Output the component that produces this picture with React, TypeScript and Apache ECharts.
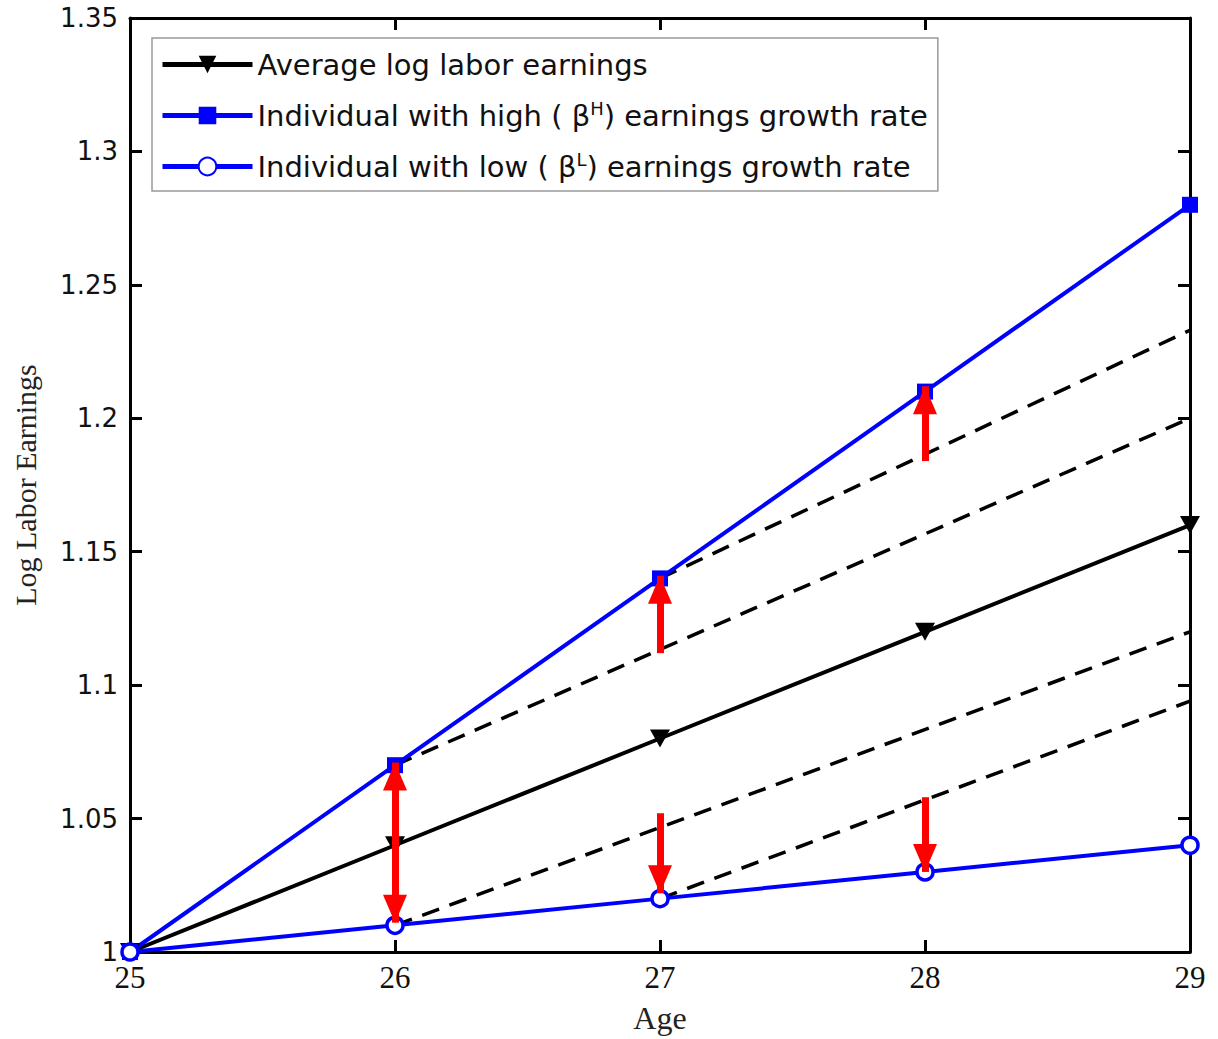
import React, { useEffect, useRef } from "react";
import * as echarts from "echarts";

const ages = [25, 26, 27, 28, 29];
const avgEarnings = [1.0, 1.04, 1.08, 1.12, 1.16];
const highEarnings = [1.0, 1.07, 1.14, 1.21, 1.28];
const lowEarnings = [1.0, 1.01, 1.02, 1.03, 1.04];

// dashed counterfactual paths: [age, value] start and end
const dashHighFrom26 = [[26, 1.07], [29, 1.2]];
const dashHighFrom27 = [[27, 1.14], [29, 1.233]];
const dashLowFrom26 = [[26, 1.01], [29, 1.12]];
const dashLowFrom27 = [[27, 1.02], [29, 1.094]];

// red arrows: [age, fromValue, toValue]
const arrows = [
  [26, 1.04, 1.071],
  [26, 1.04, 1.011],
  [27, 1.112, 1.141],
  [27, 1.052, 1.022],
  [28, 1.184, 1.212],
  [28, 1.058, 1.03],
];

const legendNames = ["avg", "high", "low"];
const legendLabels: Record<string, string> = {
  avg: "Average log labor earnings",
  high: "Individual with high ( β{sup|H}) earnings growth rate",
  low: "Individual with low ( β{sup|L}) earnings growth rate",
};

const yTicks = { min: 1, max: 1.35, interval: 0.05 };
const xTicks = { min: 25, max: 29, interval: 1 };

export default function App() {
  const ref = useRef<HTMLDivElement>(null);
  useEffect(() => {
    if (!ref.current) return;
    const chart = echarts.init(ref.current, undefined, { renderer: "svg" });
    const pair = (ys: number[]) => ages.map((a, i) => [a, ys[i]]);
    const dashSeries = (data: number[][]) => ({
      type: "line",
      data,
      symbol: "none",
      silent: true,
      lineStyle: { color: "#000", width: 3.5, type: [18, 11] },
      z: 1,
    });
    const axisLineStyle = { color: "#000", width: 3 };
    const option: any = {
      animation: false,
      backgroundColor: "#fff",
      grid: { left: 130, right: 28, top: 18, bottom: 87 },
      xAxis: [
        {
          type: "value",
          min: xTicks.min,
          max: xTicks.max,
          interval: xTicks.interval,
          name: "Age",
          nameLocation: "middle",
          nameGap: 50,
          nameTextStyle: { fontFamily: "Liberation Serif", fontSize: 32, color: "#222" },
          axisLine: { lineStyle: axisLineStyle },
          axisTick: { inside: true, length: 12, lineStyle: { color: "#000", width: 3 } },
          axisLabel: { fontFamily: "Liberation Serif", fontSize: 31, color: "#111", margin: 10 },
          splitLine: { show: false },
        },
        {
          type: "value",
          position: "top",
          min: xTicks.min,
          max: xTicks.max,
          interval: xTicks.interval,
          axisLine: { lineStyle: axisLineStyle },
          axisTick: { inside: true, length: 12, lineStyle: { color: "#000", width: 3 } },
          axisLabel: { show: false },
          splitLine: { show: false },
        },
      ],
      yAxis: [
        {
          type: "value",
          min: yTicks.min,
          max: yTicks.max,
          interval: yTicks.interval,
          name: "Log Labor Earnings",
          nameLocation: "middle",
          nameGap: 90,
          nameTextStyle: { fontFamily: "Liberation Serif", fontSize: 30, color: "#222" },
          axisLine: { lineStyle: axisLineStyle },
          axisTick: { inside: true, length: 12, lineStyle: { color: "#000", width: 3 } },
          axisLabel: { fontFamily: "DejaVu Sans", fontSize: 26, color: "#111", margin: 12 },
          splitLine: { show: false },
        },
        {
          type: "value",
          position: "right",
          min: yTicks.min,
          max: yTicks.max,
          interval: yTicks.interval,
          axisLine: { lineStyle: axisLineStyle },
          axisTick: { inside: true, length: 12, lineStyle: { color: "#000", width: 3 } },
          axisLabel: { show: false },
          splitLine: { show: false },
        },
      ],
      legend: {
        data: legendNames,
        orient: "vertical",
        left: 152,
        top: 38,
        padding: [10, 10, 8, 8],
        itemGap: 18,
        itemWidth: 90,
        itemHeight: 22,
        backgroundColor: "#fff",
        borderColor: "#999",
        borderWidth: 1.5,
        borderRadius: 0,
        lineStyle: { width: 5 },
        formatter: (n: string) => legendLabels[n],
        textStyle: {
          fontFamily: "DejaVu Sans",
          fontSize: 29,
          color: "#111",
          lineHeight: 33,
          rich: {
            sup: { fontSize: 18, lineHeight: 33, verticalAlign: "top", padding: [0, 0, 14, 0], color: "#111", fontFamily: "DejaVu Sans" },
          },
        },
      },
      series: [
        dashSeries(dashHighFrom26),
        dashSeries(dashHighFrom27),
        dashSeries(dashLowFrom26),
        dashSeries(dashLowFrom27),
        {
          name: "avg",
          type: "line",
          data: pair(avgEarnings),
          symbol: "triangle",
          symbolRotate: 180,
          symbolSize: [20, 18],
          lineStyle: { color: "#000", width: 4 },
          itemStyle: { color: "#000" },
          z: 3,
        },
        {
          name: "high",
          type: "line",
          data: pair(highEarnings),
          symbol: "rect",
          symbolSize: 16,
          lineStyle: { color: "#0000ff", width: 4 },
          itemStyle: { color: "#0000ff" },
          z: 3,
        },
        {
          name: "low",
          type: "line",
          data: pair(lowEarnings),
          symbol: "circle",
          symbolSize: 16,
          lineStyle: { color: "#0000ff", width: 4 },
          itemStyle: { color: "#fff", borderColor: "#0000ff", borderWidth: 3.5 },
          z: 3,
        },
        {
          type: "line",
          data: [],
          silent: true,
          z: 4,
          markLine: {
            silent: true,
            animation: false,
            symbol: ["none", "triangle"],
            symbolSize: [24, 28],
            symbolOffset: [[0, 0], [0, 14]],
            label: { show: false },
            lineStyle: { color: "#ff0000", width: 7, type: "solid" },
            itemStyle: { color: "#ff0000" },
            emphasis: { disabled: true },
            data: arrows.map(([a, f, t]) => [
              { coord: [a, f] },
              { coord: [a, t] },
            ]),
          },
        },
      ],
    };
    chart.setOption(option);
    return () => chart.dispose();
  }, []);
  return <div ref={ref} style={{ width: 1218, height: 1039, position: "absolute", left: 0, top: 0 }} />;
}
